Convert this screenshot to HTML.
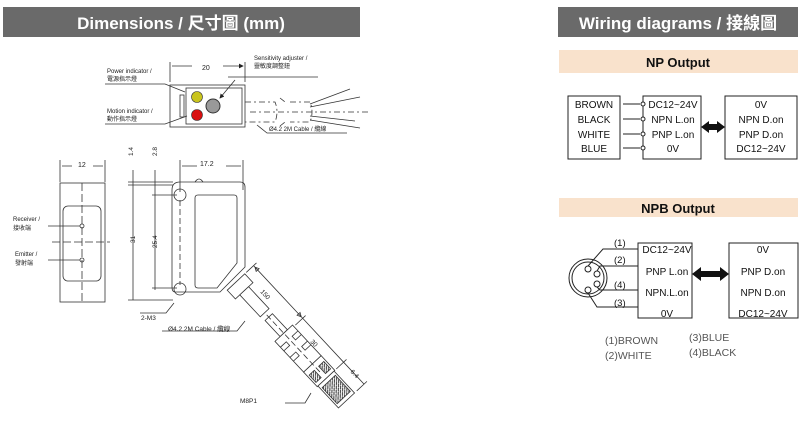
<!DOCTYPE html>
<html><head><meta charset="utf-8"><style>
body{margin:0;background:#fff;width:800px;height:423px;overflow:hidden}
svg{display:block}
text{font-family:"Liberation Sans","Noto Sans CJK TC",sans-serif}
</style></head><body>
<svg width="800" height="423" viewBox="0 0 800 423" xmlns="http://www.w3.org/2000/svg">
<defs>
<marker id="ar" markerWidth="6" markerHeight="6" refX="5" refY="3" orient="auto"><path d="M0,0L6,3L0,6z" fill="#222"/></marker>
<pattern id="th" width="3" height="3" patternUnits="userSpaceOnUse"><rect width="3" height="3" fill="#fff"/><path d="M0,0L3,3" stroke="#333" stroke-width="1"/></pattern>
</defs>
<!-- headers -->
<rect x="3" y="7" width="357" height="30" fill="#6a6a6a"/>
<text x="181" y="29" font-size="17" font-weight="bold" fill="#fff" text-anchor="middle">Dimensions / 尺寸圖 (mm)</text>
<rect x="558" y="7" width="240" height="30" fill="#6a6a6a"/>
<text x="678" y="29" font-size="17" font-weight="bold" fill="#fff" text-anchor="middle">Wiring diagrams / 接線圖</text>

<!-- NP Output -->
<rect x="559" y="50" width="239" height="23" fill="#f9e2cc"/>
<text x="678" y="67" font-size="13" font-weight="bold" fill="#111" text-anchor="middle">NP Output</text>
<g stroke="#222" fill="none" stroke-width="1">
<rect x="568" y="96" width="52" height="63"/>
<rect x="643" y="96" width="58" height="63"/>
<rect x="725" y="96" width="72" height="63"/>
<path d="M623,104h17M623,119h17M623,134h17M623,148h17"/>
</g>
<g fill="#fff" stroke="#222"><circle cx="643" cy="104" r="2"/><circle cx="643" cy="119" r="2"/><circle cx="643" cy="134" r="2"/><circle cx="643" cy="148" r="2"/></g>
<path d="M701,127l8,-6v3h8v-3l8,6l-8,6v-3h-8v3z" fill="#111"/>
<g font-size="10" fill="#111" text-anchor="middle">
<text x="594" y="108">BROWN</text><text x="594" y="123">BLACK</text><text x="594" y="138">WHITE</text><text x="594" y="152">BLUE</text>
<text x="673" y="108">DC12~24V</text><text x="673" y="123">NPN L.on</text><text x="673" y="138">PNP L.on</text><text x="673" y="152">0V</text>
<text x="761" y="108">0V</text><text x="761" y="123">NPN D.on</text><text x="761" y="138">PNP D.on</text><text x="761" y="152">DC12~24V</text>
</g>

<!-- NPB Output -->
<rect x="559" y="198" width="239" height="19" fill="#f9e2cc"/>
<text x="678" y="213" font-size="13" font-weight="bold" fill="#111" text-anchor="middle">NPB Output</text>
<g stroke="#222" fill="none" stroke-width="1">
<rect x="638" y="243" width="54" height="75"/>
<rect x="729" y="243" width="69" height="75"/>
<circle cx="588" cy="278" r="19"/><circle cx="588" cy="278" r="16"/>
<circle cx="588" cy="269" r="3"/><circle cx="597" cy="274" r="3"/><circle cx="597" cy="284" r="3"/><circle cx="588" cy="290" r="3"/>
<path d="M588,266L603,249H638M597,271L600,266H638M597,287L600,290H638M588,293L597,307H638"/>
</g>
<g font-size="9.5" fill="#111">
<text x="614" y="246">(1)</text><text x="614" y="263">(2)</text><text x="614" y="288">(4)</text><text x="614" y="306">(3)</text>
</g>
<g font-size="10" fill="#111" text-anchor="middle">
<text x="667" y="253">DC12~24V</text><text x="667" y="275">PNP L.on</text><text x="667" y="296">NPN.L.on</text><text x="667" y="317">0V</text>
<text x="763" y="253">0V</text><text x="763" y="275">PNP D.on</text><text x="763" y="296">NPN D.on</text><text x="763" y="317">DC12~24V</text>
</g>
<path d="M692,274l9,-7v4h19v-4l9,7l-9,7v-4h-19v4z" fill="#111"/>
<g font-size="10.5" fill="#555">
<text x="605" y="344">(1)BROWN</text><text x="605" y="359">(2)WHITE</text>
<text x="689" y="341">(3)BLUE</text><text x="689" y="356">(4)BLACK</text>
</g>

<!-- top view -->
<g stroke="#333" fill="none" stroke-width="0.8">
<path d="M170,62v20M245,62v20"/>
<path d="M172,66h20M223,66h20" marker-end="url(#ar)"/>
<rect x="170" y="85" width="75" height="42"/>
<rect x="186" y="88" width="56" height="36"/>
<rect x="180" y="95" width="4" height="22"/>
<path d="M105,84h60l20,8M105,124h60l22,-8"/>
<path d="M228,77h90M235,80l-15,18" marker-end="url(#ar)"/>
<path d="M245,102h30q4,10 0,20h-30M290,102h20q4,10 0,20h-20M280,98l5,4M280,126l5,-4M250,112h120" stroke-dasharray="6,3,2,3"/>
<path d="M310,104l40,-15M310,107l50,-10M310,116l45,5M310,120l50,8"/>
<path d="M257,125l10,8h80"/>
</g>
<circle cx="197" cy="97" r="5.5" fill="#c9c41d" stroke="#333" stroke-width="0.6"/>
<circle cx="197" cy="115" r="5.5" fill="#d91010" stroke="#333" stroke-width="0.6"/>
<circle cx="213" cy="106" r="7" fill="#999" stroke="#333"/>
<g font-size="6" fill="#222">
<text x="107" y="73">Power indicator /</text><text x="107" y="81">電源指示燈</text>
<text x="107" y="113">Motion indicator /</text><text x="107" y="121">動作指示燈</text>
<text x="254" y="60">Sensitivity adjuster /</text><text x="254" y="68">靈敏度調整鈕</text>
<text x="269" y="131">Ø4.2  2M Cable / 纜線</text>
<text x="202" y="70" font-size="7">20</text>
</g>

<!-- front view -->
<g stroke="#333" fill="none" stroke-width="0.8">
<path d="M60,160v22M105,160v22M62,166h10M103,166h-10"/>
<rect x="60" y="183" width="45" height="119"/>
<rect x="63" y="206" width="38" height="75" rx="5"/>
<path d="M82,183v120M52,242h58" stroke-dasharray="8,3"/>
<circle cx="82" cy="226" r="2"/><circle cx="82" cy="260" r="2"/>
<path d="M80,226h-32M80,260h-32"/>
</g>
<g font-size="6" fill="#222"><text x="78" y="167" font-size="7">12</text>
<text x="13" y="221">Receiver /</text><text x="13" y="230">接收端</text>
<text x="15" y="256">Emitter /</text><text x="15" y="265">發射端</text></g>

<!-- side view -->
<g stroke="#333" fill="none" stroke-width="0.8">
<path d="M128,182h45M128,185h45M128,300h45M152,195h25M152,288h25"/>
<path d="M133,170v130M155,170v120M180,160v32M243,160v30M182,166h15M241,166h-15"/>
<path d="M172,190q0,-8 8,-8h60q5,0 5,5v80l-25,25h-45q-3,0 -3,-5z"/>
<path d="M198,195h36q3,0 3,3v65l-20,25h-19q-3,0 -3,-3v-87q0,-3 3,-3z"/>
<circle cx="180" cy="195" r="6"/><circle cx="180" cy="289" r="6"/>
<path d="M195,182q4,-6 8,0"/>
<path d="M180,200v85" stroke-dasharray="6,3"/>
<path d="M140,313h26l8,-10M162,331h75l8,-10M285,403h20l6,-10"/>
</g>
<!-- cable & connector (rotated) -->
<g transform="translate(236,282) rotate(47)" stroke="#333" fill="#fff" stroke-width="0.8">
<rect x="0" y="-12" width="12" height="24"/>
<rect x="12" y="-6" width="30" height="12"/>
<rect x="48" y="-5" width="22" height="10"/>
<rect x="70" y="-12" width="42" height="24"/>
<path d="M78,-12v8h5v-8M92,-12v8h5v-8M78,12v-8h5v8M92,12v-8h5v8" fill="none"/>
<rect x="112" y="-12" width="20" height="24"/>
<rect x="118" y="-10" width="10" height="7" fill="url(#th)"/>
<rect x="118" y="3" width="10" height="7" fill="url(#th)"/>
<rect x="132" y="-11" width="30" height="22"/>
<rect x="136" y="-9" width="22" height="18" fill="url(#th)"/>
<path d="M0,-14v-14M72,-14v-14M132,-14v-14M162,-14v-14M0,-24h72M72,-24h60M132,-24h30M2,-24l4,-2v4zM70,-24l-4,-2v4z" fill="none"/>
<path d="M45,0h80" stroke-dasharray="6,3" fill="none"/>
</g>
<g font-size="6.5" fill="#222">
<text x="200" y="166" font-size="7">17.2</text>
<text x="133" y="156" transform="rotate(-90 133 156)">1.4</text>
<text x="157" y="156" transform="rotate(-90 157 156)">2.8</text>
<text x="135" y="243" transform="rotate(-90 135 243)">31</text>
<text x="157" y="248" transform="rotate(-90 157 248)">25.4</text>
<text x="141" y="320">2-M3</text>
<text x="168" y="331">Ø4.2  2M Cable / 纜線</text>
<text x="240" y="403">M8P1</text>
<text x="260" y="292" transform="rotate(47 260 292)">150</text>
<text x="310" y="342" transform="rotate(47 310 342)">30</text>
<text x="350" y="372" transform="rotate(47 350 372)">6.4</text>
</g>
</svg>
</body></html>
